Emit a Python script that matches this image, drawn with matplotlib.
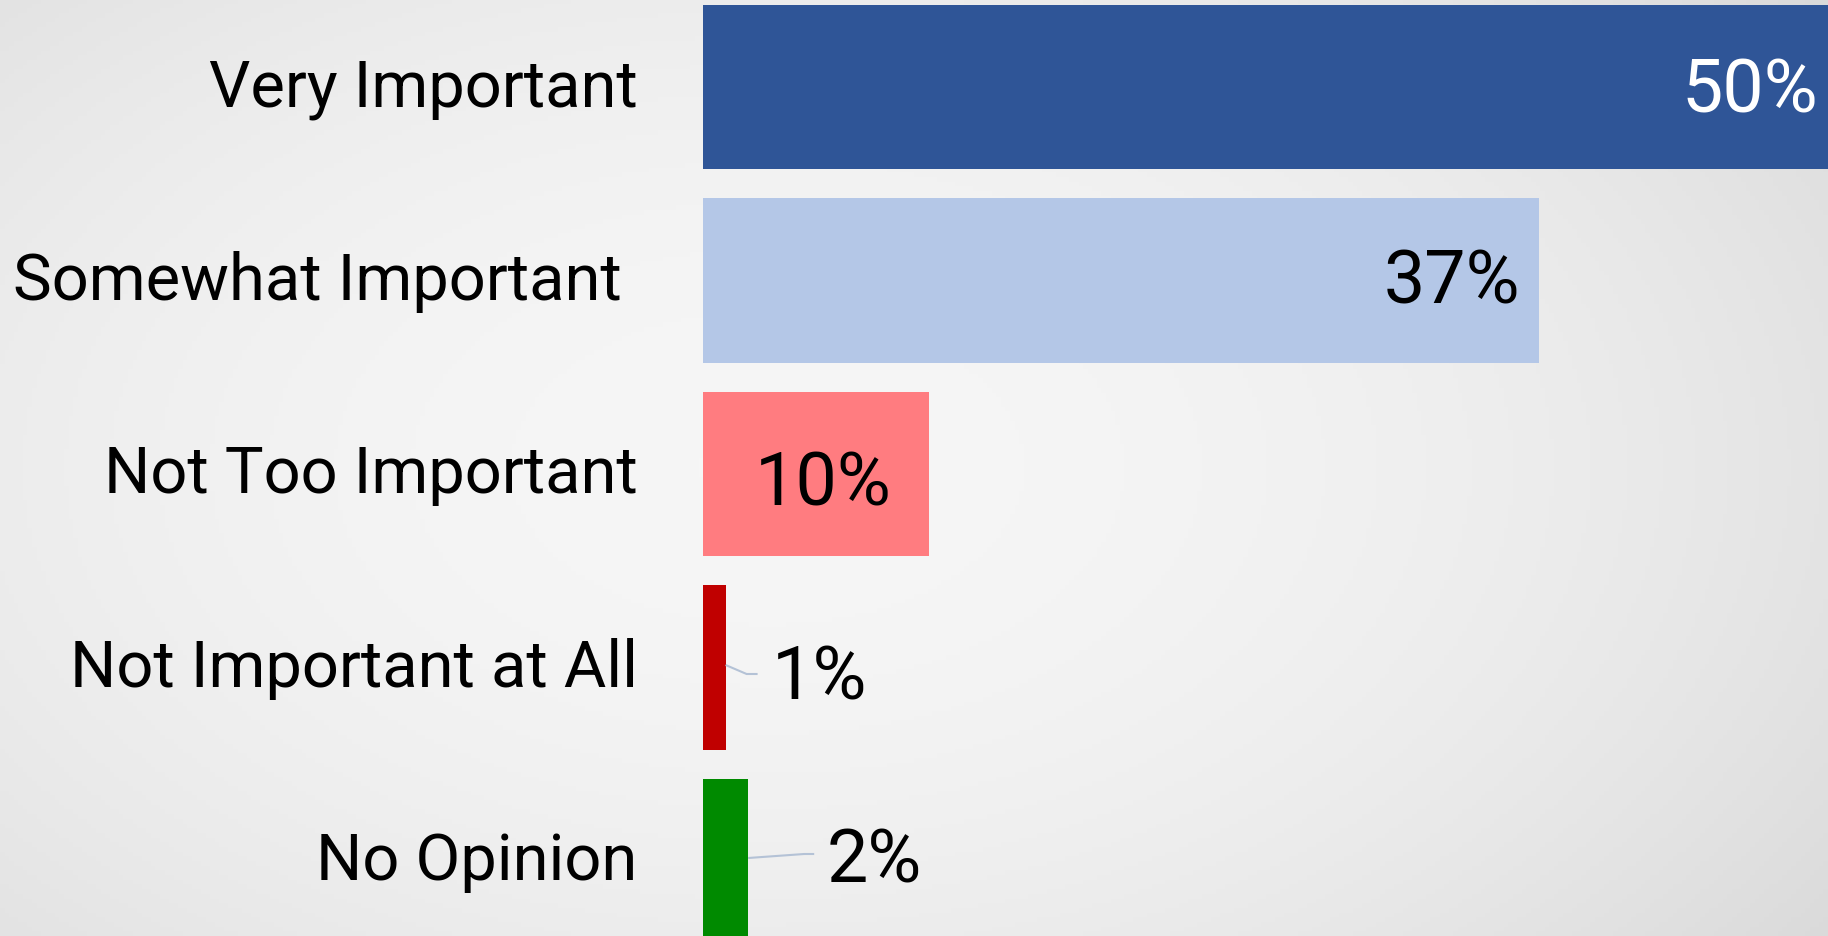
import numpy as np
import matplotlib.pyplot as plt
from matplotlib import font_manager, transforms

# Survey data
categories = ["Very Important", "Somewhat Important ", "Not Too Important",
              "Not Important at All", "No Opinion"]
values = [50, 37, 10, 1, 2]
labels = ["50%", "37%", "10%", "1%", "2%"]
colors = ["#2F5597", "#B4C7E7", "#FF7C80", "#C00000", "#008A00"]
label_colors = ["white", "black", "black", "black", "black"]

# pick a font
names = {f.name for f in font_manager.fontManager.ttflist}
font = "Roboto" if "Roboto" in names else "DejaVu Sans"
plt.rcParams["font.family"] = [font, "DejaVu Sans"]

W, H = 1828, 937
fig = plt.figure(figsize=(W / 100, H / 100), dpi=100)

# soft radial gradient background
bg = fig.add_axes([0, 0, 1, 1], zorder=-1)
gx, gy = np.meshgrid(np.linspace(0, 1, 400), np.linspace(0, 1, 200))
r = np.sqrt(((gx - 0.42) / 0.75) ** 2 + ((gy - 0.5) / 0.9) ** 2)
shade = 0.965 - 0.12 * r ** 2
bg.imshow(np.dstack([shade] * 3), extent=[0, 1, 0, 1], aspect="auto")
bg.axis("off")

left = 703 / W
ax = fig.add_axes([left, 0, 1 - left, 1])
ax.patch.set_alpha(0)
y = np.arange(len(categories))
ax.barh(y, values, height=0.85, color=colors)

ax.set_xlim(0, (W - 703) / 22.6)
ax.set_ylim(4 + 75 / 193.5, -88 / 193.5)
ax.set_yticks(y)
ax.set_yticklabels(categories, fontsize=46.8)
ax.tick_params(axis="y", length=0, pad=47)
ax.set_xticks([])
for s in ax.spines.values():
    s.set_visible(False)

# nudge category labels up a little
shift = transforms.ScaledTranslation(0, 6 / 100, fig.dpi_scale_trans)
for t in ax.get_yticklabels():
    t.set_transform(t.get_transform() + shift)

# pixel -> data scales
px_x = ((W - 703) / 22.6) / (W - 703)
px_y = (4 + 75 / 193.5 + 88 / 193.5) / H

# inside labels: offset from bar end (px) and vertical nudge
inside_dx = [-15, -19, -37, None, None]
inside_dy = [4, 2, 10, None, None]
# outside labels with leader lines: text offset and leader points (px, y down)
outside = {
    3: dict(text=(46, 11), pts=[(0, -2.5), (21, 6.5), (32, 6.5)]),
    4: dict(text=(78, 0), pts=[(0, -3), (56, -7), (66, -7)]),
}

for i, v in enumerate(values):
    if inside_dx[i] is not None:
        ax.text(v + inside_dx[i] * px_x, i + inside_dy[i] * px_y, labels[i],
                ha="right", va="center", fontsize=53, color=label_colors[i])
    else:
        o = outside[i]
        xs = [v + p[0] * px_x for p in o["pts"]]
        ys = [i + p[1] * px_y for p in o["pts"]]
        ax.plot(xs, ys, color="#B4C2D6", lw=1.5, solid_capstyle="butt")
        ax.text(v + o["text"][0] * px_x, i + o["text"][1] * px_y, labels[i],
                ha="left", va="center", fontsize=53, color=label_colors[i])

fig.savefig("out.png", dpi=100)
